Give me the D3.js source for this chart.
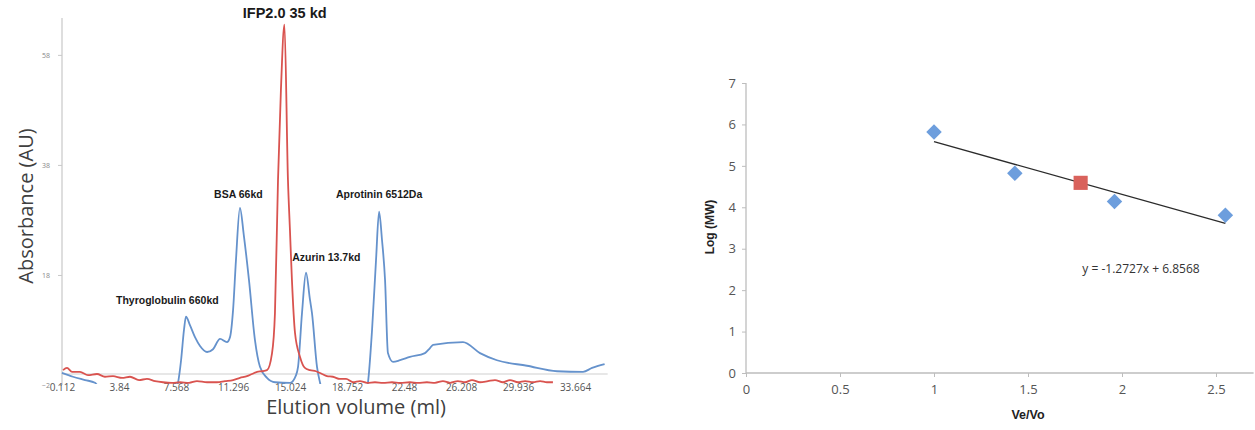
<!DOCTYPE html>
<html>
<head>
<meta charset="utf-8">
<script src="https://cdn.jsdelivr.net/npm/d3@7"></script>
<style>
  body { margin: 0; background: #fff; }
  svg { display: block; }
</style>
</head>
<body>
<script>
// ---- left chart: elution profiles (volume ml, absorbance AU)
var xTickLabels = ["0.112", "3.84", "7.568", "11.296", "15.024", "18.752", "22.48", "26.208", "29.936", "33.664"];
var yTickValues = [-2, 18, 38, 58];

var standardsTrace = [
  [0.11, 0.2], [0.83, -0.5], [1.62, -1.1], [2.27, -1.6], [2.9, -3.8],
  [7.4, -3.8], [7.70, -1.6], [7.9, 2.5], [8.09, 8], [8.22, 10.4],
  [8.48, 8.9], [8.81, 6.7], [9.14, 5.1], [9.6, 4.0], [9.99, 4.5],
  [10.45, 6.4], [10.9, 5.8], [11.1, 6.7], [11.3, 11.6], [11.49, 20.7],
  [11.75, 30.2], [12.0, 25.3], [12.34, 17.1], [12.73, 6.2], [13.06, 1.3],
  [13.52, -0.7], [14.05, -1.5], [15.03, -1.6], [15.42, -0.2], [15.55, 1.3],
  [15.81, 11.1], [16.07, 18.4], [16.33, 13.5], [16.46, 11.1], [16.79, 1.3],
  [16.99, -1.6], [17.2, -3.8], [19.9, -3.8], [20.12, -1.6], [20.39, 8],
  [20.65, 20.7], [20.85, 29.5], [21.04, 24.4], [21.24, 17.1], [21.43, 3.8],
  [21.76, 2.2], [22.22, 2.5], [22.87, 3.1], [23.85, 3.8], [24.18, 4.7],
  [24.38, 5.3], [26.34, 5.8], [27.45, 3.8], [28.56, 2.5], [30.52, 1.5],
  [32.49, 0.5], [34.19, 0.4], [34.78, 1.1], [35.6, 1.8]
];

var ifpTrace = [
  [0.18, 0.7], [0.44, 1.1], [0.77, 0.4], [1.29, 0.4], [1.81, -0.2],
  [2.4, 0.0], [2.92, -0.5], [3.45, -0.4], [4.04, -0.7], [4.56, -0.5],
  [5.15, -1.1], [5.67, -0.9], [6.2, -1.3], [6.72, -1.5], [7.31, -1.6],
  [7.83, -1.5], [8.42, -1.6], [8.94, -1.3], [9.6, -1.5], [10.25, -1.5],
  [10.77, -1.3], [11.3, -1.1], [11.75, -0.7], [12.21, -0.4], [12.54, 0.0],
  [12.87, 0.4], [13.19, 0.5], [13.52, 0.7], [13.85, 3.8], [14.04, 11.1],
  [14.24, 35.3], [14.43, 51.6], [14.66, 63.5], [14.89, 35.3], [15.02, 26.2],
  [15.15, 17.1], [15.35, 7.5], [15.68, 3.1], [16.0, 1.1], [16.33, 0.7],
  [16.72, 0.5], [17.12, 0.0], [17.44, -0.4], [17.83, -0.5], [18.29, -0.9],
  [18.69, -0.9], [19.14, -1.5], [19.6, -1.3], [20.06, -1.6], [20.58, -1.5],
  [21.11, -1.6], [21.7, -1.5], [22.22, -1.6], [22.87, -1.5], [23.4, -1.6],
  [23.98, -1.5], [24.5, -1.6], [25.03, -1.3], [25.49, -1.6], [26.0, -1.3],
  [26.47, -1.5], [26.93, -1.1], [27.45, -1.5], [27.97, -1.3], [28.43, -1.1],
  [28.95, -1.5], [29.41, -1.1], [29.94, -1.5], [30.4, -1.3], [30.92, -1.5],
  [31.38, -1.3], [31.83, -1.5], [32.22, -1.5]
];

var peakNames = ["IFP2.0 35 kd", "BSA 66kd", "Thyroglobulin 660kd", "Azurin 13.7kd", "Aprotinin 6512Da"];
var peakVolumes = [14.68, 11.65, 7.0, 17.4, 20.85];
var peakLabelY = [64.7, 32, 12.8, 20.5, 32];

// ---- right chart: calibration
var veVo = [1.0, 1.43, 1.96, 2.55];
var logMW = [5.82, 4.82, 4.14, 3.81];
var unknownVeVo = [1.78];
var unknownLogMW = [4.59];
var trendCoef = [-1.2727, 6.8568];
var trendText = "y = -1.2727x + 6.8568";

var width = 1255, height = 430;

var svg = d3.select("body").append("svg")
  .attr("width", width)
  .attr("height", height)
  .style("font-family", "'Open Sans', sans-serif");

function drawElution(svg) {
  var x = d3.scaleLinear().domain([0.112, 33.664]).range([62, 575]);
  var y = d3.scaleLinear().domain([-2, 64.7]).range([385, 18]);

  svg.append("defs").append("clipPath").attr("id", "plotClip")
    .append("rect").attr("x", 58).attr("y", 10).attr("width", 560).attr("height", 374);

  // axes lines
  svg.append("line")
    .attr("x1", x(0.112)).attr("x2", x(0.112))
    .attr("y1", y(64.7)).attr("y2", y(-2))
    .style("stroke", "#c8c8c8").style("stroke-width", 1.2);
  svg.append("line")
    .attr("x1", x(0.112)).attr("x2", x(35.8))
    .attr("y1", y(0)).attr("y2", y(0))
    .style("stroke", "#cfcfcf").style("stroke-width", 1.2);

  var yAxis = svg.append("g")
    .attr("transform", "translate(" + x(0.112) + ",0)")
    .call(d3.axisLeft(y).tickValues(yTickValues).tickSize(4).tickPadding(8));
  yAxis.select(".domain").remove();
  yAxis.selectAll("line").style("stroke", "#c8c8c8");
  yAxis.selectAll("text").style("font-size", "7px").style("fill", "#888").style("font-family", "'Open Sans', sans-serif");

  var xAxis = svg.append("g")
    .attr("transform", "translate(0,380)")
    .call(d3.axisBottom(x).tickValues(xTickLabels.map(Number)).tickFormat(function(d, i) { return xTickLabels[i]; }).tickSize(0).tickPadding(4));
  xAxis.select(".domain").remove();
  xAxis.selectAll("text").style("font-size", "10px").style("fill", "#555").style("font-family", "'Open Sans', sans-serif");

  var line = d3.line()
    .x(function(d) { return x(d[0]); })
    .y(function(d) { return y(d[1]); })
    .curve(d3.curveMonotoneX);

  var plot = svg.append("g").attr("clip-path", "url(#plotClip)");

  plot.append("path")
    .datum(standardsTrace)
    .attr("d", line)
    .style("fill", "none")
    .style("stroke", "#6592cc")
    .style("stroke-width", 1.8);

  plot.append("path")
    .datum(ifpTrace)
    .attr("d", line)
    .style("fill", "none")
    .style("stroke", "#d9534f")
    .style("stroke-width", 1.8);

  svg.selectAll("text.peak")
    .data(peakNames)
    .enter()
    .append("text")
    .attr("class", "peak")
    .attr("x", function(d, i) { return x(peakVolumes[i]); })
    .attr("y", function(d, i) { return y(peakLabelY[i]); })
    .attr("text-anchor", "middle")
    .style("font-family", "'Liberation Sans', Arial, sans-serif")
    .style("font-weight", "bold")
    .style("font-size", function(d, i) { return i === 0 ? "14.5px" : "10.5px"; })
    .style("fill", "#1a1a1a")
    .text(function(d) { return d; });

  svg.append("text")
    .attr("transform", "translate(33,206) rotate(-90)")
    .attr("text-anchor", "middle")
    .style("font-size", "20px")
    .style("fill", "#404040")
    .text("Absorbance (AU)");

  svg.append("text")
    .attr("x", 356)
    .attr("y", 414)
    .attr("text-anchor", "middle")
    .style("font-size", "20px")
    .style("fill", "#404040")
    .text("Elution volume (ml)");
}

function drawCalibration(svg) {
  var x = d3.scaleLinear().domain([0, 2.7]).range([746, 1253.6]);
  var y = d3.scaleLinear().domain([0, 7]).range([373, 83]);

  var yAxis = svg.append("g")
    .attr("transform", "translate(" + x(0) + ",0)")
    .call(d3.axisLeft(y).ticks(7).tickSize(4).tickPadding(6));
  yAxis.select(".domain").attr("d", "M0," + y(7) + "V" + y(0)).style("stroke", "#bdbdbd").style("stroke-width", 1.3);
  yAxis.selectAll("line").style("stroke", "#bdbdbd");
  yAxis.selectAll("text").style("font-size", "13px").style("fill", "#555").style("font-family", "'Open Sans', sans-serif");

  var xAxis = svg.append("g")
    .attr("transform", "translate(0," + y(0) + ")")
    .call(d3.axisBottom(x).tickValues([0, 0.5, 1, 1.5, 2, 2.5]).tickFormat(d3.format("")).tickSize(4).tickPadding(8));
  xAxis.select(".domain").attr("d", "M" + x(0) + ",0H" + x(2.7)).style("stroke", "#bdbdbd").style("stroke-width", 1.3);
  xAxis.selectAll("line").style("stroke", "#bdbdbd");
  xAxis.selectAll("text").style("font-size", "13px").style("fill", "#555").style("font-family", "'Open Sans', sans-serif");

  var xEnds = [d3.min(veVo), d3.max(veVo)];
  svg.append("line")
    .attr("x1", x(xEnds[0])).attr("y1", y(trendCoef[0] * xEnds[0] + trendCoef[1]))
    .attr("x2", x(xEnds[1])).attr("y2", y(trendCoef[0] * xEnds[1] + trendCoef[1]))
    .style("stroke", "#2b2b2b")
    .style("stroke-width", 1.3);

  svg.selectAll("path.std")
    .data(veVo)
    .enter()
    .append("path")
    .attr("class", "std")
    .attr("d", d3.symbol().type(d3.symbolSquare).size(120))
    .attr("transform", function(d, i) { return "translate(" + x(d) + "," + y(logMW[i]) + ") rotate(45)"; })
    .style("fill", "#6d9edd");

  svg.selectAll("path.unk")
    .data(unknownVeVo)
    .enter()
    .append("path")
    .attr("class", "unk")
    .attr("d", d3.symbol().type(d3.symbolSquare).size(200))
    .attr("transform", function(d, i) { return "translate(" + x(d) + "," + y(unknownLogMW[i]) + ")"; })
    .style("fill", "#d9625c");

  svg.append("text")
    .attr("x", 1141)
    .attr("y", 273)
    .attr("text-anchor", "middle")
    .style("font-size", "12px")
    .style("fill", "#333")
    .text(trendText);

  svg.append("text")
    .attr("transform", "translate(714,227) rotate(-90)")
    .attr("text-anchor", "middle")
    .style("font-family", "'Liberation Sans', Arial, sans-serif")
    .style("font-weight", "bold")
    .style("font-size", "12px")
    .style("fill", "#222")
    .text("Log (MW)");

  svg.append("text")
    .attr("x", x(1.5))
    .attr("y", 419)
    .attr("text-anchor", "middle")
    .style("font-family", "'Liberation Sans', Arial, sans-serif")
    .style("font-weight", "bold")
    .style("font-size", "12.5px")
    .style("fill", "#222")
    .text("Ve/Vo");
}

drawElution(svg);
drawCalibration(svg);
</script>
</body>
</html>
